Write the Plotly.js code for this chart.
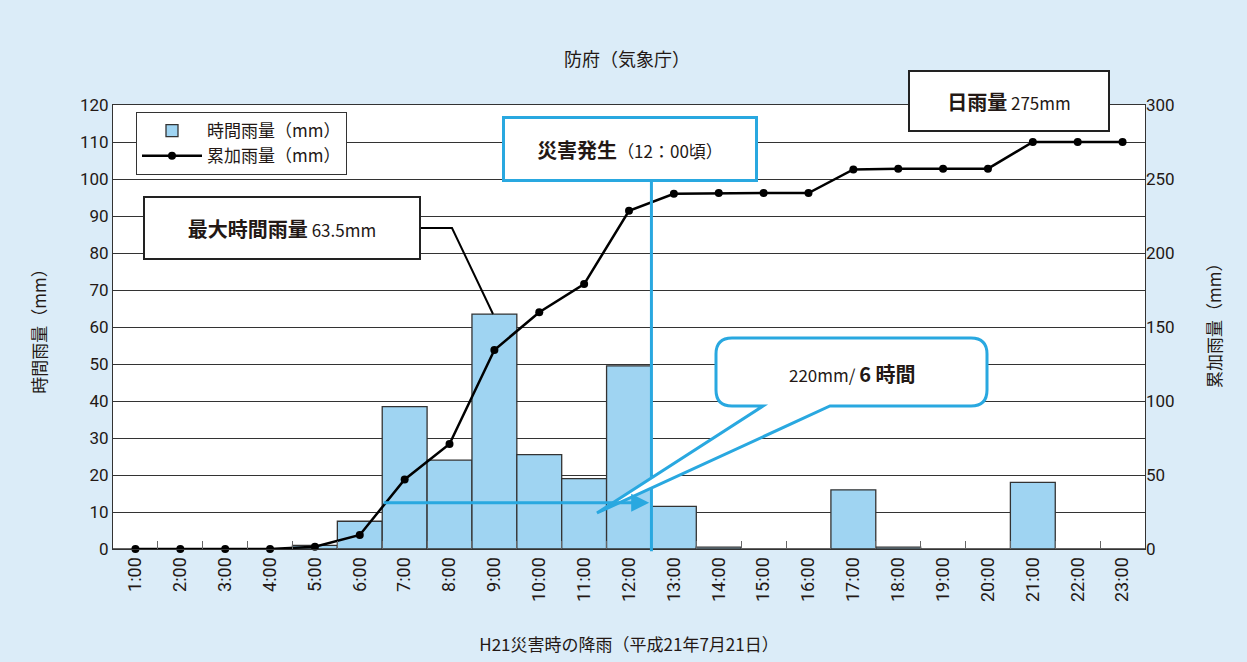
<!DOCTYPE html>
<html><head><meta charset="utf-8">
<script src="https://cdn.plot.ly/plotly-3.0.1.min.js"></script>
<style>html,body{margin:0;padding:0;background:#dbecf8;}#chart{width:1247px;height:662px;}</style>
</head><body><div id="chart"></div>
<script>
const categories = ['1:00','2:00','3:00','4:00','5:00','6:00','7:00','8:00','9:00','10:00','11:00','12:00','13:00','14:00','15:00','16:00','17:00','18:00','19:00','20:00','21:00','22:00','23:00'];
const hourlyRain = [0,0,0,0,1,7.5,38.5,24,63.5,25.5,19,49.5,11.5,0.5,0,0,16,0.5,0,0,18,0,0];
const cumulativeRain = [0,0,0,0,1.5,9.5,47,71,134.5,160,179,228.5,240,240.5,240.5,240.5,256.5,257,257,257,275,275,275];
const leftTicks = [0,10,20,30,40,50,60,70,80,90,100,110,120];
const rightTicks = [0,50,100,150,200,250,300];

const W = 1247, H = 662;
const L = 113, R = 1145, T = 105, B = 549;
const px = x => (x - L) / (R - L);
const py = y => (B - y) / (B - T);
const P = (x, y) => px(x).toFixed(5) + ',' + py(y).toFixed(5);

const JP = '"Noto Sans CJK JP", "Noto Sans", sans-serif';
const NUM = '"Liberation Sans Narrow", "Roboto", "Liberation Sans", sans-serif';
const TXT = '#231815';
const BLUE = '#29a8e0';

const traces = [
  {type:'bar', name:'時間雨量（mm）', x:categories, y:hourlyRain, yaxis:'y',
   marker:{color:'#9fd4f2', line:{color:'#333', width:1.3}}},
  {type:'scatter', mode:'lines+markers', name:'累加雨量（mm）', x:categories, y:cumulativeRain, yaxis:'y2',
   line:{color:'#000', width:2.5}, marker:{color:'#000', size:8}, cliponaxis:false}
];

// speech bubble path
const bx0=716, bx1=987, by0=338, by1=406, r=16;
const bubble = 'M ' + P(bx0+r,by0) + ' L ' + P(bx1-r,by0) + ' Q ' + P(bx1,by0) + ' ' + P(bx1,by0+r) +
  ' L ' + P(bx1,by1-r) + ' Q ' + P(bx1,by1) + ' ' + P(bx1-r,by1) +
  ' L ' + P(830,by1) + ' L ' + P(597,513) + ' L ' + P(763,by1) +
  ' L ' + P(bx0+r,by1) + ' Q ' + P(bx0,by1) + ' ' + P(bx0,by1-r) +
  ' L ' + P(bx0,by0+r) + ' Q ' + P(bx0,by0) + ' ' + P(bx0+r,by0) + ' Z';

const shapes = [
  {type:'line', xref:'x', yref:'paper', x0:11.5, x1:11.5, y0:-0.005, y1:py(182), line:{color:BLUE, width:3}, layer:'above'},
  {type:'path', xref:'paper', yref:'paper', path:'M ' + P(421,228) + ' L ' + P(452,228) + ' L ' + P(493,314), line:{color:'#000', width:2}, layer:'above'},
  {type:'path', xref:'paper', yref:'paper', path:bubble, fillcolor:'#fff', line:{color:BLUE, width:3}, layer:'above'}
];

const box = {xref:'paper', yref:'paper', xanchor:'center', yanchor:'middle', showarrow:false, bgcolor:'#fff', borderpad:0};
const big = s => '<span style="font-size:20px"><b>' + s + '</b></span>';
const annotations = [
  {xref:'paper', yref:'paper', xanchor:'center', yanchor:'middle', x:px(627), y:py(58), text:'防府（気象庁）', showarrow:false, font:{family:JP, size:18, color:TXT}},
  {x:11.45, y:12.5, xref:'x', yref:'y', ax:5.5, ay:12.5, axref:'x', ayref:'y', text:'', showarrow:true,
   arrowcolor:BLUE, arrowwidth:3, arrowhead:2, arrowsize:1.2},
  Object.assign({}, box, {x:px(282), y:py(228), width:274, height:60, text:big('最大時間雨量') + ' 63.5mm',
   bordercolor:'#222', borderwidth:2, font:{family:JP, size:17, color:TXT}}),
  Object.assign({}, box, {x:px(630), y:py(149), width:250, height:60, text:big('災害発生') + '（12：00頃）',
   bordercolor:BLUE, borderwidth:3, font:{family:JP, size:17, color:TXT}}),
  Object.assign({}, box, {x:px(1009), y:py(101), width:198, height:58, text:big('日雨量') + ' 275mm',
   bordercolor:'#222', borderwidth:2, font:{family:JP, size:17, color:TXT}}),
  {xref:'paper', yref:'paper', xanchor:'center', yanchor:'middle', x:px(852), y:py(373), text:'220mm/ <b><span style="font-size:20px">6 時間</span></b>', showarrow:false,
   font:{family:JP, size:17, color:TXT}},
  {xref:'paper', yref:'paper', xanchor:'center', yanchor:'middle', x:px(1213), y:py(322), text:'累加雨量（mm）', textangle:-90, showarrow:false,
   font:{family:JP, size:17, color:TXT}}
];

const layout = {
  width:W, height:H,
  margin:{l:L, r:W-R, t:T, b:H-B},
  paper_bgcolor:'#dbecf8', plot_bgcolor:'#fff',
  bargap:0,
  showlegend:true,
  legend:{x:px(136), y:py(112), xanchor:'left', yanchor:'top', bgcolor:'#fff', bordercolor:'#333', borderwidth:1,
          font:{family:JP, size:17, color:TXT}, itemwidth:60, tracegroupgap:0},
  xaxis:{type:'category', range:[-0.5, 22.5], tickangle:-90, tickfont:{family:NUM, size:18, color:TXT},
         ticks:'inside', tickson:'boundaries', ticklen:8, tickcolor:'#666',
         showline:true, linecolor:'#333', linewidth:1, mirror:true, showgrid:false,
         title:{text:'H21災害時の降雨（平成21年7月21日）', font:{family:JP, size:17, color:TXT}, standoff:38}},
  yaxis:{range:[0,120], tickvals:leftTicks, showgrid:true, gridcolor:'#333', gridwidth:1,
         showline:true, linecolor:'#333', mirror:true, zeroline:false, ticks:'', ticklen:0,
         tickfont:{family:NUM, size:17, color:TXT},
         title:{text:'時間雨量（mm）', font:{family:JP, size:17, color:TXT}, standoff:28}},
  yaxis2:{range:[0,300], tickvals:rightTicks, overlaying:'y', side:'right', showgrid:false, zeroline:false,
          showline:false, ticks:'', tickfont:{family:NUM, size:17, color:TXT}},
  shapes:shapes, annotations:annotations,
  hovermode:false
};

Plotly.newPlot('chart', traces, layout, {staticPlot:true, displayModeBar:false});
</script></body></html>
